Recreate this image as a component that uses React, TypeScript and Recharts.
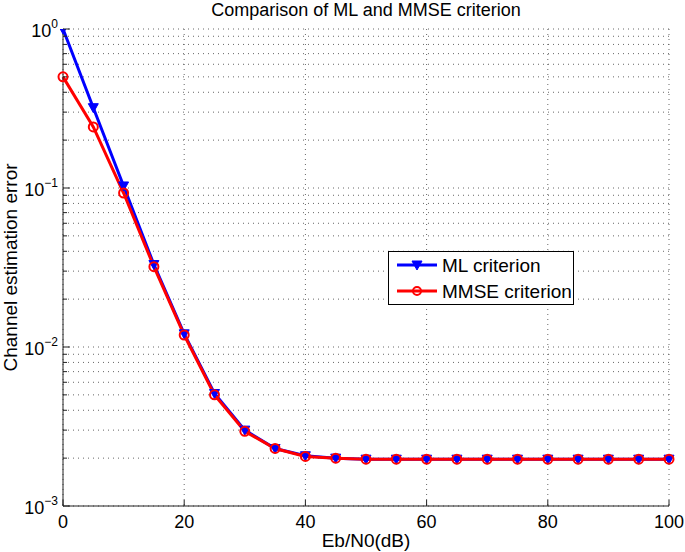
import React from 'react';
import { LineChart, Line, XAxis, YAxis, CartesianGrid, Label } from 'recharts';

const ebN0 = [0, 5, 10, 15, 20, 25, 30, 35, 40, 45, 50, 55, 60, 65, 70, 75, 80, 85, 90, 95, 100];
const mlError = [
  1, 0.32, 0.103, 0.033, 0.0121, 0.0051, 0.003, 0.0023, 0.00207, 0.002, 0.00197,
  0.00197, 0.00197, 0.00197, 0.00197, 0.00197, 0.00197, 0.00197, 0.00197, 0.00197, 0.00197,
];
const mmseError = [
  0.5, 0.242, 0.093, 0.032, 0.0119, 0.005, 0.00295, 0.0023, 0.00205, 0.002, 0.00197,
  0.00197, 0.00197, 0.00197, 0.00197, 0.00197, 0.00197, 0.00197, 0.00197, 0.00197, 0.00197,
];
const xTicks = [0, 20, 40, 60, 80, 100];
const yTicks = [
  0.001, 0.002, 0.003, 0.004, 0.005, 0.006, 0.007, 0.008, 0.009,
  0.01, 0.02, 0.03, 0.04, 0.05, 0.06, 0.07, 0.08, 0.09,
  0.1, 0.2, 0.3, 0.4, 0.5, 0.6, 0.7, 0.8, 0.9, 1,
];

const data = ebN0.map((x, i) => ({ x, ml: mlError[i], mmse: mmseError[i] }));

const FONT = '"Liberation Sans", Arial, Helvetica, sans-serif';
const AXIS = '#222';

const isMajor = (v: number) => Math.abs(Math.log10(v) - Math.round(Math.log10(v))) < 1e-6;

const YTickLeft = (props: any) => {
  const { x, y, payload } = props;
  const v = payload.value;
  const major = isMajor(v);
  const e = Math.round(Math.log10(v));
  return (
    <g>
      <line x1={x} x2={x + (major ? 7 : 4)} y1={y} y2={y} stroke={AXIS} />
      {major && (
        <text x={x - 5} y={y + 8} textAnchor="end" fontSize={18} fill="#000" fontFamily={FONT}>
          10
          <tspan dy={-9} fontSize={12}>{e === 0 ? '0' : '\u2212' + -e}</tspan>
        </text>
      )}
    </g>
  );
};

const YTickRight = (props: any) => {
  const { x, y, payload } = props;
  const major = isMajor(payload.value);
  return <line x1={x} x2={x - (major ? 7 : 4)} y1={y} y2={y} stroke={AXIS} />;
};

const XTickBottom = (props: any) => {
  const { x, y, payload } = props;
  return (
    <g>
      <line x1={x} x2={x} y1={y} y2={y - 6} stroke={AXIS} />
      <text x={x} y={y + 22} textAnchor="middle" fontSize={18} fill="#000" fontFamily={FONT}>
        {payload.value}
      </text>
    </g>
  );
};

const XTickTop = (props: any) => {
  const { x, y } = props;
  return <line x1={x} x2={x} y1={y} y2={y + 6} stroke={AXIS} />;
};

const TriangleDot = (props: any) => {
  const { cx, cy, index } = props;
  if (cx == null || cy == null) return <g key={`t-${index}`} />;
  return (
    <path
      key={`t-${index}`}
      d={`M${cx - 5},${cy - 4}L${cx + 5},${cy - 4}L${cx},${cy + 5}Z`}
      fill="#0000ff"
      stroke="#0000ff"
      strokeWidth={1}
    />
  );
};

const CircleDot = (props: any) => {
  const { cx, cy, index } = props;
  if (cx == null || cy == null) return <g key={`c-${index}`} />;
  return <circle key={`c-${index}`} cx={cx} cy={cy} r={4.5} fill="none" stroke="#ff0000" strokeWidth={2} />;
};

const legendItems = [
  { name: 'ML criterion', color: '#0000ff', marker: 'tri' },
  { name: 'MMSE criterion', color: '#ff0000', marker: 'circle' },
];

const ChartLegend = () => (
  <div
    style={{
      position: 'absolute',
      left: 388,
      top: 251,
      width: 186,
      height: 54,
      border: '1px solid #000',
      background: '#fff',
      boxSizing: 'border-box',
    }}
  >
    <svg width={184} height={52} style={{ display: 'block' }}>
      {legendItems.map((item, i) => {
        const cy = 13 + i * 26;
        return (
          <g key={item.name}>
            <line x1={8} x2={48} y1={cy} y2={cy} stroke={item.color} strokeWidth={3} />
            {item.marker === 'tri' ? (
              <path d={`M23,${cy - 4}L33,${cy - 4}L28,${cy + 5}Z`} fill={item.color} stroke={item.color} />
            ) : (
              <circle cx={28} cy={cy} r={4} fill="none" stroke={item.color} strokeWidth={2} />
            )}
            <text x={53} y={cy + 7} fontSize={19} fill="#000" fontFamily={FONT}>
              {item.name}
            </text>
          </g>
        );
      })}
    </svg>
  </div>
);

const App: React.FC = () => {
  return (
    <div
      style={{
        position: 'absolute',
        left: 0,
        top: 0,
        width: 685,
        height: 552,
        background: '#fff',
        fontFamily: FONT,
      }}
    >
      <div
        style={{
          position: 'absolute',
          left: 63,
          width: 606,
          top: 0,
          textAlign: 'center',
          fontSize: 18,
          lineHeight: '20px',
          color: '#000',
        }}
      >
        Comparison of ML and MMSE criterion
      </div>
      <LineChart width={685} height={552} data={data} margin={{ top: 29, right: 16, bottom: 0, left: 0 }}>
        <CartesianGrid stroke="#666" strokeDasharray="1 4" />
        <XAxis
          dataKey="x"
          type="number"
          domain={[0, 100]}
          ticks={xTicks}
          interval={0}
          height={46}
          tickSize={0}
          tickMargin={0}
          tick={XTickBottom}
          stroke={AXIS}
        >
          <Label
            content={(p: any) => (
              <text
                x={p.viewBox.x + p.viewBox.width / 2}
                y={p.viewBox.y + 41}
                textAnchor="middle"
                fontSize={19}
                fill="#000"
                fontFamily={FONT}
              >
                Eb/N0(dB)
              </text>
            )}
          />
        </XAxis>
        <XAxis
          xAxisId="top"
          orientation="top"
          dataKey="x"
          type="number"
          domain={[0, 100]}
          ticks={xTicks}
          interval={0}
          height={0}
          tickSize={0}
          tickMargin={0}
          tick={XTickTop}
          stroke={AXIS}
        />
        <YAxis
          type="number"
          scale="log"
          domain={[0.001, 1]}
          allowDataOverflow
          ticks={yTicks}
          interval={0}
          width={63}
          tickSize={0}
          tickMargin={0}
          tick={YTickLeft}
          stroke={AXIS}
        >
          <Label
            content={(p: any) => {
              const lx = 17;
              const ly = p.viewBox.y + p.viewBox.height / 2;
              return (
                <text
                  x={lx}
                  y={ly}
                  transform={`rotate(-90, ${lx}, ${ly})`}
                  textAnchor="middle"
                  fontSize={19}
                  fill="#000"
                  fontFamily={FONT}
                >
                  Channel estimation error
                </text>
              );
            }}
          />
        </YAxis>
        <YAxis
          yAxisId="right"
          orientation="right"
          type="number"
          scale="log"
          domain={[0.001, 1]}
          allowDataOverflow
          ticks={yTicks}
          interval={0}
          width={0}
          tickSize={0}
          tickMargin={0}
          tick={YTickRight}
          stroke={AXIS}
        />
        <Line
          type="linear"
          dataKey="ml"
          stroke="#0000ff"
          strokeWidth={3}
          dot={TriangleDot}
          activeDot={false}
          isAnimationActive={false}
        />
        <Line
          type="linear"
          dataKey="mmse"
          stroke="#ff0000"
          strokeWidth={3}
          dot={CircleDot}
          activeDot={false}
          isAnimationActive={false}
        />
      </LineChart>
      <ChartLegend />
    </div>
  );
};

export default App;
